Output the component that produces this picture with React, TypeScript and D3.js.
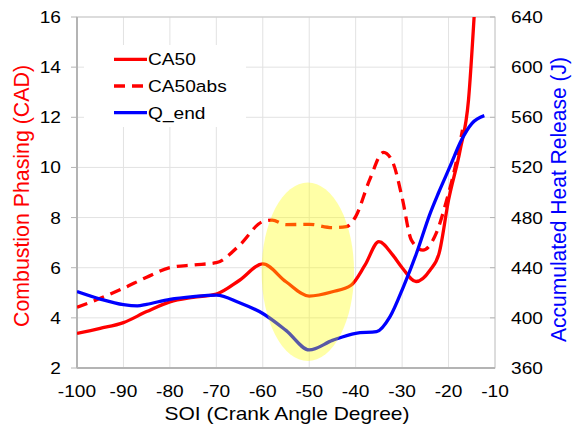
import * as d3 from "d3";

// CA50 (solid, left axis)
const ca50Soi = [-100, -95, -90, -85, -80, -75, -70, -65, -60, -55, -50, -45, -41, -38, -35, -32, -30, -27, -24, -22, -20, -17.5, -15.7, -14.5];
const ca50Val = [3.38, 3.58, 3.81, 4.25, 4.64, 4.82, 4.95, 5.5, 6.15, 5.44, 4.87, 5.04, 5.3, 6.1, 7.04, 6.5, 6.0, 5.45, 5.9, 6.6, 8.7, 10.7, 12.7, 16];

// CA50abs (dashed, left axis)
const absSoi = [-100, -95, -90, -85, -80, -75, -70, -65, -60, -58, -55, -50, -45, -42, -40, -37, -34, -32, -30, -28, -25.5, -22.6, -20.4, -18.6, -17];
const absVal = [4.42, 4.78, 5.18, 5.62, 6.0, 6.11, 6.2, 6.9, 7.84, 7.9, 7.72, 7.73, 7.6, 7.64, 8.04, 9.5, 10.6, 10.2, 8.8, 7.1, 6.7, 7.4, 8.7, 10.0, 11.5];

// Q_end (right axis)
const qSoi = [-100, -95, -90, -87, -85, -80, -75, -70, -65, -60, -55, -50, -45, -40, -35.5, -32.6, -29.7, -26.9, -24, -22.2, -19.7, -17.2, -15, -12.3];
const qVal = [421, 415, 410.5, 409.5, 410.8, 414.8, 417, 418.2, 412, 403.5, 390, 374.4, 382, 387.7, 389, 401, 425, 451.5, 483, 499.4, 520.6, 542, 555, 561.3];

const xTicks = [-100, -90, -80, -70, -60, -50, -40, -30, -20, -10];
const leftTicks = [2, 4, 6, 8, 10, 12, 14, 16];
const rightTicks = [360, 400, 440, 480, 520, 560, 600, 640];

// highlighted region: centre (SOI, CAD) and half-extents
const spotCenter = [-50.3, 5.84];
const spotHalf = [9.95, 3.56];

const legendItems = [
  { label: "CA50", color: "#ff0000", dash: null },
  { label: "CA50abs", color: "#ff0000", dash: "11,7" },
  { label: "Q_end", color: "#0000ff", dash: null },
];

const W = 572;
const H = 424;
const m = { top: 17, right: 77, bottom: 56, left: 77 };
const FONT = "'Liberation Sans', Arial, sans-serif";
const STRETCH = 1.16; // the source picture is a bit wider than tall

type Anchor = "start" | "middle" | "end";

function Label({ x, y, anchor, children, size = 16.5 }: { x: number; y: number; anchor: Anchor; children: any; size?: number }) {
  return (
    <text transform={`translate(${x},${y}) scale(${STRETCH},1)`} textAnchor={anchor} fontSize={size} fill="#000">
      {children}
    </text>
  );
}

export default function App() {
  const x = d3.scaleLinear().domain([-100, -10]).range([m.left, W - m.right]);
  const yL = d3.scaleLinear().domain([2, 16]).range([H - m.bottom, m.top]);
  const yR = d3.scaleLinear().domain([360, 640]).range([H - m.bottom, m.top]);

  const pathFrom = (xs: number[], ys: number[], yScale: d3.ScaleLinear<number, number>) =>
    d3
      .line<[number, number]>()
      .x((d) => x(d[0]))
      .y((d) => yScale(d[1]))
      .curve(d3.curveMonotoneX)(xs.map((v, i) => [v, ys[i]] as [number, number])) ?? "";

  const x0 = x(-100);
  const x1 = x(-10);
  const y0 = yL(2);
  const y1 = yL(16);

  return (
    <svg
      width={W}
      height={H}
      style={{ position: "absolute", left: 0, top: 0, background: "#fff" }}
      fontFamily={FONT}
    >
      <defs>
        <clipPath id="plot-clip">
          <rect x={x0} y={y1} width={x1 - x0} height={y0 - y1} />
        </clipPath>
      </defs>

      {/* grid */}
      {xTicks.map((t) => (
        <line key={"gx" + t} x1={x(t)} x2={x(t)} y1={y1} y2={y0} stroke="#e2e2e2" strokeWidth={1} />
      ))}
      {leftTicks.map((t) => (
        <line key={"gy" + t} x1={x0} x2={x1} y1={yL(t)} y2={yL(t)} stroke="#e2e2e2" strokeWidth={1} />
      ))}

      {/* legend backdrop */}
      <rect x={84} y={45} width={162} height={82} fill="#fff" />

      {/* frame */}
      <rect x={x0} y={y1} width={x1 - x0} height={y0 - y1} fill="none" stroke="#c8c8c8" strokeWidth={1} />
      <line x1={x0} x2={x0} y1={y1} y2={y0} stroke="#b4b4b4" strokeWidth={2} />
      <line x1={x0} x2={x1} y1={y0} y2={y0} stroke="#b4b4b4" strokeWidth={2} />

      {/* ticks */}
      {leftTicks.map((t) => (
        <g key={"lt" + t}>
          <line x1={x0 - 6} x2={x0} y1={yL(t)} y2={yL(t)} stroke="#b4b4b4" />
          <Label x={61} y={yL(t) + 6} anchor="end">
            {t}
          </Label>
        </g>
      ))}
      {rightTicks.map((t) => (
        <g key={"rt" + t}>
          <line x1={x1 - 5} x2={x1} y1={yR(t)} y2={yR(t)} stroke="#b4b4b4" />
          <Label x={511} y={yR(t) + 6} anchor="start">
            {t}
          </Label>
        </g>
      ))}
      {xTicks.map((t) => (
        <Label key={"xt" + t} x={x(t)} y={397} anchor="middle">
          {t}
        </Label>
      ))}

      {/* series */}
      <g clipPath="url(#plot-clip)" fill="none" strokeWidth={3.3} strokeLinejoin="round">
        <path d={pathFrom(ca50Soi, ca50Val, yL)} stroke="#ff0000" />
        <path d={pathFrom(absSoi, absVal, yL)} stroke="#ff0000" strokeDasharray="11,7" />
        <path d={pathFrom(qSoi, qVal, yR)} stroke="#0000ff" />
        <ellipse
          cx={x(spotCenter[0])}
          cy={yL(spotCenter[1])}
          rx={x(spotCenter[0] + spotHalf[0]) - x(spotCenter[0])}
          ry={yL(spotCenter[1] - spotHalf[1]) - yL(spotCenter[1])}
          fill="#ffff00"
          fillOpacity={0.35}
          stroke="none"
        />
      </g>

      {/* legend */}
      {legendItems.map((d, i) => (
        <g key={d.label} transform={`translate(114, ${59.3 + i * 26.7})`}>
          <line x1={0} x2={33} y1={0} y2={0} stroke={d.color} strokeWidth={3.3} strokeDasharray={d.dash ?? undefined} />
          <Label x={34} y={6} anchor="start">
            {d.label}
          </Label>
        </g>
      ))}

      {/* axis titles */}
      <text x={(x0 + x1) / 2 + 1} y={420} textAnchor="middle" fontSize={19} fill="#000" textLength={245} lengthAdjust="spacingAndGlyphs">
        SOI (Crank Angle Degree)
      </text>
      <text
        transform={`translate(21, ${196}) rotate(-90) scale(1, ${STRETCH})`}
        textAnchor="middle"
        dy="0.35em"
        fontSize={19}
        fill="#ff0000"
        textLength={262}
        lengthAdjust="spacingAndGlyphs"
      >
        Combustion Phasing (CAD)
      </text>
      <text
        transform={`translate(558, ${199.5}) rotate(-90) scale(1, ${STRETCH})`}
        textAnchor="middle"
        dy="0.35em"
        fontSize={19}
        fill="#0000ff"
        textLength={285}
        lengthAdjust="spacingAndGlyphs"
      >
        Accumulated Heat Release (J)
      </text>
    </svg>
  );
}
